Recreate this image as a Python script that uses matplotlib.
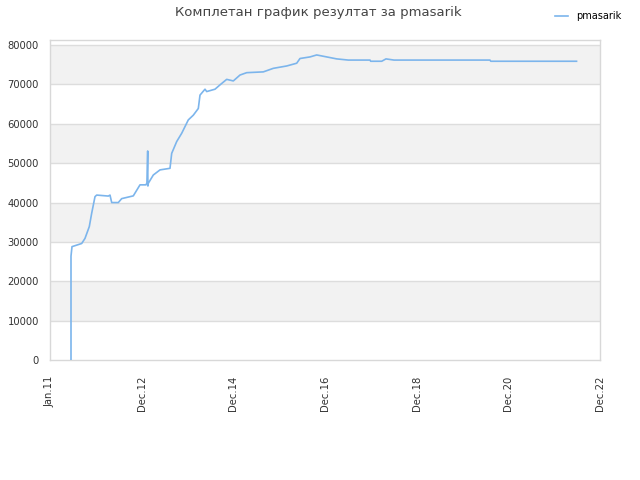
import numpy as np
import matplotlib.pyplot as plt

# months since Jan 2011 and score values
months = [5.46, 5.46, 5.72, 8.24, 9.10, 10.22, 10.84, 11.70, 12.14,
          15.16, 15.60, 16.04, 17.76, 18.64, 21.66, 23.40, 24.96, 25.20,
          25.30, 25.40, 25.45, 25.56, 26.86, 28.60, 31.20, 31.64, 32.94,
          34.24, 35.96, 37.26, 38.56, 39.00, 40.30, 40.74, 42.90, 44.20,
          45.94, 47.66, 49.40, 51.14, 55.46, 58.06, 61.54, 64.14, 65.00,
          67.60, 69.34, 71.94, 74.54, 77.56, 83.20, 83.38, 86.24, 87.36,
          89.44, 114.4, 114.6, 136.9]
scores = [0, 26400, 28800, 29600, 30900, 33900, 37300, 41500, 41900,
          41650, 41900, 40000, 40000, 41000, 41700, 44500, 44500, 45000,
          49000, 53100, 44200, 44900, 47000, 48300, 48700, 52500, 55500,
          57600, 61000, 62200, 63900, 67300, 68800, 68200, 68800, 69900,
          71300, 70900, 72400, 73000, 73200, 74100, 74700, 75400, 76600,
          77000, 77500, 77000, 76500, 76200, 76200, 75900, 75900, 76500,
          76200, 76200, 75900, 75900]

tick_labels = ['Jan.11', 'Dec.12', 'Dec.14', 'Dec.16', 'Dec.18', 'Dec.20', 'Dec.22']
y_ticks = [0, 10000, 20000, 30000, 40000, 50000, 60000, 70000, 80000]

fig = plt.figure(figsize=(6.4, 4.8), dpi=100)
ax = fig.add_axes([50 / 640, 120 / 480, 550 / 640, 320 / 480])

x_max = 143
y_top = 81300
ax.set_xlim(0, x_max)
ax.set_ylim(0, y_top)

# alternating bands
for i in range(len(y_ticks)):
    lo = y_ticks[i]
    hi = y_ticks[i + 1] if i + 1 < len(y_ticks) else y_top
    if i % 2 == 1:
        ax.axhspan(lo, hi, color='#f2f2f2', zorder=0, lw=0)
for v in y_ticks[1:]:
    ax.axhline(v, color='#dddddd', lw=1, zorder=1)

ax.plot(months, scores, color='#7cb5ec', lw=1.2, zorder=3, label='pmasarik')

ax.set_yticks(y_ticks)
ax.set_yticklabels([str(v) for v in y_ticks])
ax.set_xticks(np.linspace(0, x_max, len(tick_labels)))
ax.set_xticklabels(tick_labels, rotation=90)
ax.tick_params(axis='both', length=0, labelsize=7.2, colors='#333333')
ax.tick_params(axis='x', pad=11)
ax.tick_params(axis='y', pad=8)

for s in ax.spines.values():
    s.set_color('#d8d8d8')
    s.set_linewidth(1)

fig.suptitle('Комплетан график резултат за pmasarik', x=0.497, y=0.988,
             fontsize=9.5, color='#444444')
fig.legend(loc='upper right', bbox_to_anchor=(0.985, 0.995), frameon=False,
           fontsize=7, handlelength=1.3, handletextpad=0.9)

plt.savefig('out.png')
